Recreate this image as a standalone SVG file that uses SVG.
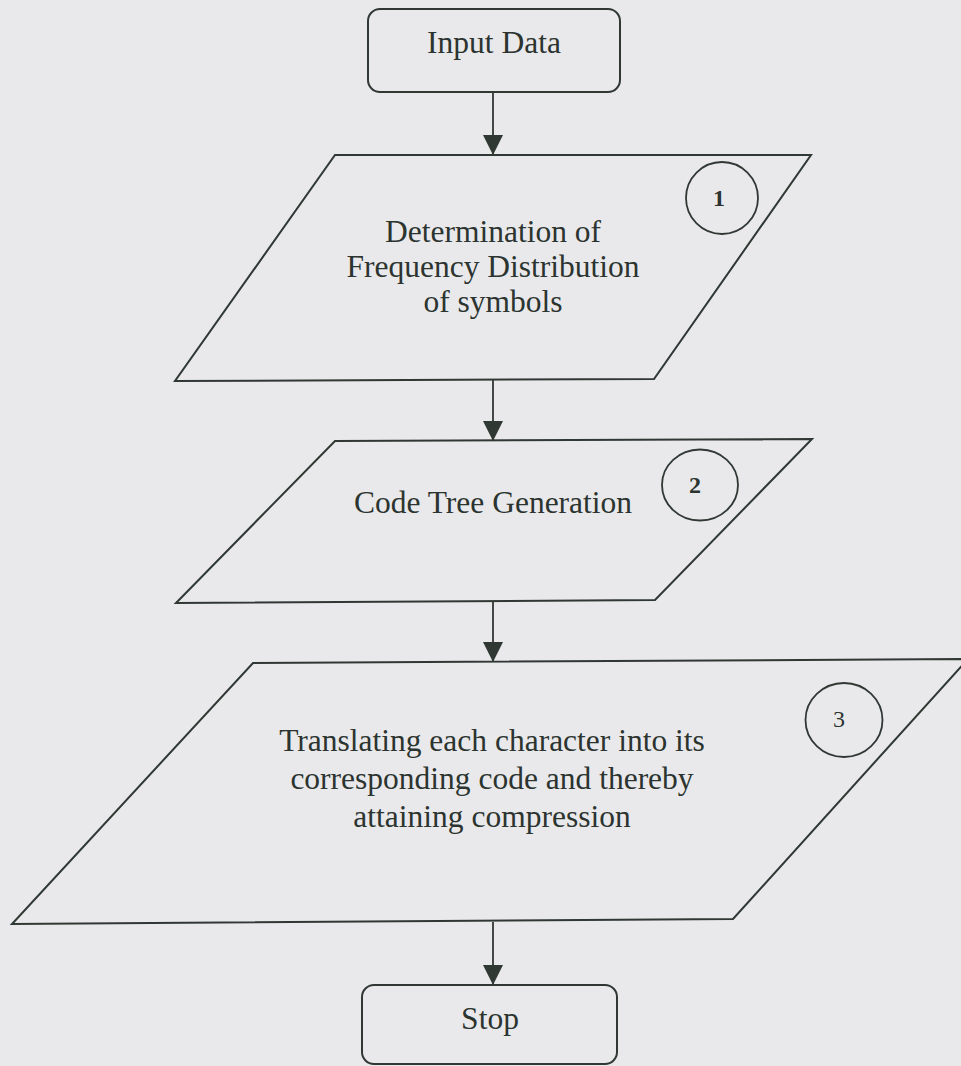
<svg xmlns="http://www.w3.org/2000/svg" width="961" height="1066" viewBox="0 0 961 1066">
  <defs>
    <style>
      .shape { fill: none; stroke: #303833; stroke-width: 2; stroke-linejoin: miter; }
      .badge { fill: none; stroke: #303833; stroke-width: 1.8; }
      text { font-family: 'Liberation Serif', 'DejaVu Serif', serif; fill: #2c3430; text-anchor: middle; }
      .label { font-size: 31.5px; }
      .num { font-size: 24px; }
      .bold { font-weight: bold; }
      .flow { stroke: #303833; stroke-width: 1.8; fill: none; marker-end: url(#head); }
    </style>
    <marker id="head" viewBox="0 0 20 20" refX="20" refY="10" markerWidth="20" markerHeight="20" markerUnits="userSpaceOnUse" orient="auto">
      <path d="M0,0 L20,10 L0,20 Z" fill="#303833"/>
    </marker>
  </defs>

  <rect x="0" y="0" width="961" height="1066" fill="#e9e9eb"/>

  <!-- flow connectors -->
  <g id="connectors">
    <line class="flow" x1="493" y1="92" x2="493" y2="155"/>
    <line class="flow" x1="493" y1="380" x2="493" y2="441"/>
    <line class="flow" x1="493" y1="602" x2="493" y2="662"/>
    <line class="flow" x1="493" y1="922" x2="493" y2="985"/>
  </g>

  <!-- start terminal -->
  <g id="node-input">
    <rect class="shape" x="368" y="9" width="252" height="83" rx="12" ry="12"/>
    <text class="label" x="494" y="53" font-family="Liberation Serif, serif">Input Data</text>
  </g>

  <!-- step 1 -->
  <g id="node-frequency">
    <polygon class="shape" points="335,155 811,155 654,379 175,381"/>
    <text class="label" x="493" y="242">Determination of</text>
    <text class="label" x="493" y="277">Frequency Distribution</text>
    <text class="label" x="493" y="312">of symbols</text>
    <circle class="badge" cx="722" cy="198" r="36"/>
    <text class="num bold" x="719" y="206">1</text>
  </g>

  <!-- step 2 -->
  <g id="node-codetree">
    <polygon class="shape" points="335,441 812,439 655,600 176,603"/>
    <text class="label" x="493" y="513">Code Tree Generation</text>
    <ellipse class="badge" cx="700" cy="485" rx="38" ry="35.5"/>
    <text class="num bold" x="695" y="493">2</text>
  </g>

  <!-- step 3 -->
  <g id="node-translate">
    <polygon class="shape" points="253,663 968,659 733,919 12,924"/>
    <text class="label" x="492" y="751">Translating each character into its</text>
    <text class="label" x="492" y="789">corresponding code and thereby</text>
    <text class="label" x="492" y="827">attaining compression</text>
    <ellipse class="badge" cx="844" cy="720" rx="38.5" ry="37"/>
    <text class="num" x="839" y="727">3</text>
  </g>

  <!-- end terminal -->
  <g id="node-stop">
    <rect class="shape" x="362" y="985" width="255" height="79" rx="12" ry="12"/>
    <text class="label" x="490" y="1029">Stop</text>
  </g>
</svg>
